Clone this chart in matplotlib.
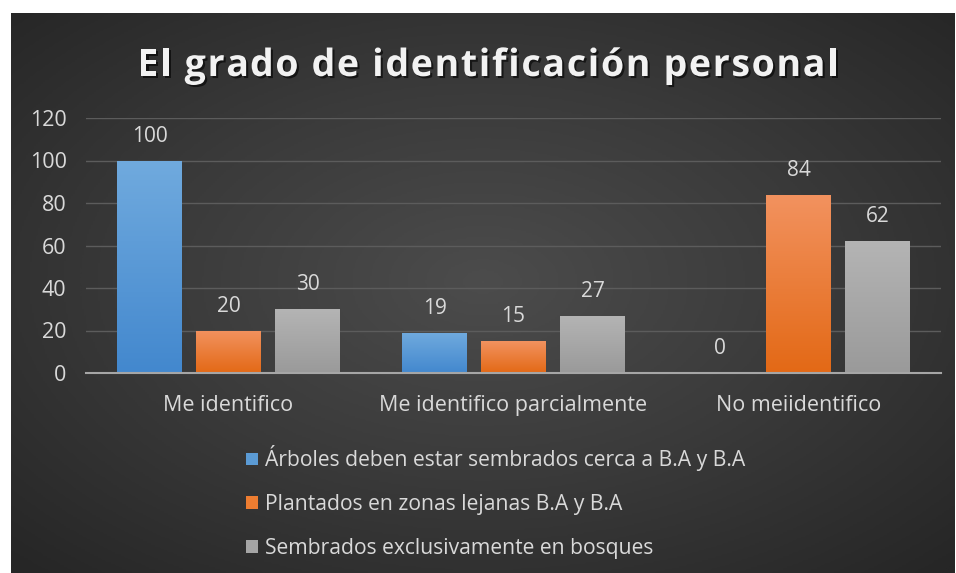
import numpy as np
import matplotlib.pyplot as plt
import matplotlib.patheffects as pe
from matplotlib.colors import LinearSegmentedColormap
from matplotlib.patches import Patch

# data
categories = ['Me identifico', 'Me identifico parcialmente', 'No meiidentifico']
series_names = ['Árboles deben estar sembrados cerca a B.A y B.A',
                'Plantados en zonas lejanas B.A y B.A',
                'Sembrados exclusivamente en bosques']
arboles_cerca = [100, 19, 0]
plantados_lejanas = [20, 15, 84]
sembrados_bosques = [30, 27, 62]
yticks = [0, 20, 40, 60, 80, 100, 120]
title = 'El grado de identificación personal'

plt.rcParams['font.family'] = ['Open Sans', 'DejaVu Sans']
txt_color = '#d9d9d9'

fig = plt.figure(figsize=(9.56, 5.73), dpi=100)
fig.patch.set_facecolor('white')

# dark panel with radial gradient
bg = fig.add_axes([11 / 956, 0, 944 / 956, 560 / 573])
bg.set_axis_off()
yy, xx = np.mgrid[0:1:300j, 0:1:500j]
r = np.sqrt(((xx - 0.5) / 0.75) ** 2 + ((yy - 0.48) / 0.75) ** 2)
r = np.clip(r / 0.95, 0, 1)
bg_cmap = LinearSegmentedColormap.from_list('bg', ['#4c4c4c', '#3a3a3a', '#262626'])
bg.imshow(r, cmap=bg_cmap, aspect='auto', extent=[0, 1, 0, 1], vmin=0, vmax=1)
bg.set_xlim(0, 1)
bg.set_ylim(0, 1)

ax = fig.add_axes([86 / 956, 1 - 373 / 573, 855 / 956, 255 / 573])
ax.set_facecolor('none')
ax.set_xlim(-0.5, 2.5)
ax.set_ylim(0, 120)

x = np.arange(len(categories))
w = 0.228
step = 0.277
series = [arboles_cerca, plantados_lejanas, sembrados_bosques]
grads = [('#70aade', '#4388ce'), ('#f2925f', '#e36916'), ('#b4b4b4', '#9a9a9a')]
solid = ['#5b9bd5', '#ed7d31', '#a5a5a5']

for i, (vals, (top, bot)) in enumerate(zip(series, grads)):
    cmap = LinearSegmentedColormap.from_list('g%d' % i, [bot, top])
    bars = ax.bar(x + (i - 1) * step, vals, w, color=solid[i], zorder=3, linewidth=0)
    for b, v in zip(bars, vals):
        if v > 0:
            x0 = b.get_x()
            im = ax.imshow(np.linspace(0, 1, 100).reshape(-1, 1), cmap=cmap, origin='lower',
                           extent=[x0, x0 + w, 0, v], aspect='auto', zorder=3.5)
            im.set_clip_path(b)
        ax.annotate(str(v), (b.get_x() + w / 2, v), xytext=(0, 17.5), textcoords='offset points',
                    ha='center', va='center', color=txt_color, fontsize=15)

ax.set_xlim(-0.5, 2.5)
ax.set_ylim(0, 120)
ax.set_yticks(yticks)
ax.set_xticks(x)
ax.set_xticklabels(categories)
ax.tick_params(axis='both', length=0, colors=txt_color, labelsize=15.5)
ax.tick_params(axis='y', pad=14)
ax.tick_params(axis='x', pad=16)
ax.grid(axis='y', color='#5c5c5c', linewidth=1, zorder=0)
for s in ['top', 'right', 'left']:
    ax.spines[s].set_visible(False)
ax.spines['bottom'].set_color('#a6a6a6')
ax.spines['bottom'].set_linewidth(1.5)
ax.spines['bottom'].set_zorder(4)

# title with letter spacing, drawn char by char
renderer = fig.canvas.get_renderer()
tkw = dict(color='#f2f2f2', fontsize=27, fontweight='bold',
           path_effects=[pe.withSimplePatchShadow(offset=(1.5, -1.5), shadow_rgbFace='black', alpha=0.6)])
extra = 1.7  # px between letters
probe = fig.text(0, 0, title, **tkw)
full_w = probe.get_window_extent(renderer).width
probe.remove()
total_w = full_w + extra * (len(title) - 1)
x_start = (fig.bbox.width - total_w) / 2 + 10
y_title = 1 - 66 / 573
for k, ch in enumerate(title):
    if k == 0:
        pre_w = 0
    else:
        p = fig.text(0, 0, title[:k] + '|', **tkw)
        q = fig.text(0, 0, '|', **tkw)
        pre_w = p.get_window_extent(renderer).width - q.get_window_extent(renderer).width
        p.remove()
        q.remove()
    fig.text((x_start + pre_w + extra * k) / fig.bbox.width, y_title, ch,
             ha='left', va='center', **tkw)

# legend
handles = [Patch(facecolor=c, edgecolor='none') for c in solid]
leg = fig.legend(handles, series_names, loc='upper left', bbox_to_anchor=(238 / 956, 1 - 437 / 573),
                 frameon=False, fontsize=15.2, labelcolor=txt_color, handlelength=0.55, handleheight=0.55,
                 handletextpad=0.35, labelspacing=1.08, borderaxespad=0)

fig.savefig('out.png', dpi=100, facecolor='white')
